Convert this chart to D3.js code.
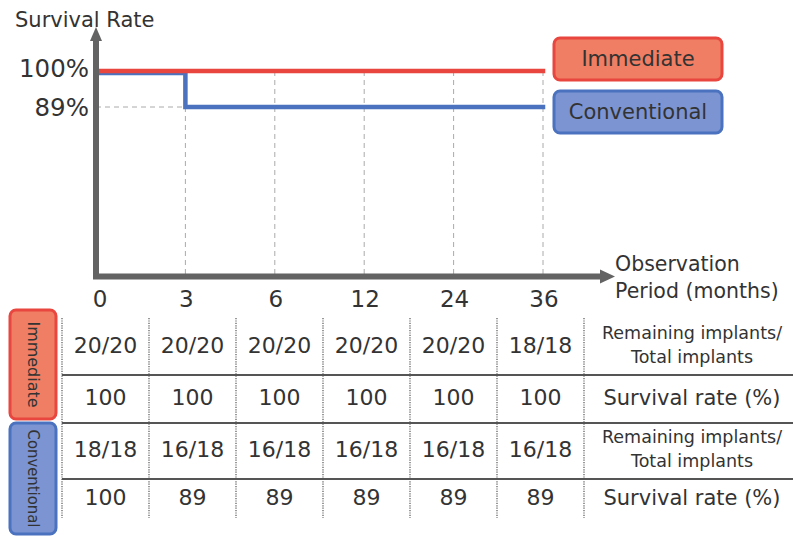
<!DOCTYPE html>
<html>
<head>
<meta charset="utf-8">
<script src="https://cdn.jsdelivr.net/npm/d3@7"></script>
<style>
  html, body { margin: 0; padding: 0; background: #fff; }
  svg { display: block; font-family: "DejaVu Sans", Verdana, sans-serif; }
</style>
</head>
<body>
<svg id="chart" width="793" height="536"></svg>
<script>
// Observation periods (months)
const periods = ["0", "3", "6", "12", "24", "36"];

// Immediate loading group
const immediateRemaining = [20, 20, 20, 20, 20, 18];
const immediateTotal     = [20, 20, 20, 20, 20, 18];
const immediateRate      = [100, 100, 100, 100, 100, 100];

// Conventional loading group
const conventionalRemaining = [18, 16, 16, 16, 16, 16];
const conventionalTotal     = [18, 18, 18, 18, 18, 18];
const conventionalRate      = [100, 89, 89, 89, 89, 89];

const yTicks = [100, 89];
const groups = ["Immediate", "Conventional"];

const RED = "#e8463e", RED_FILL = "#ef7e64";
const BLUE = "#4a72bf", BLUE_FILL = "#7c94d2";
const AXIS = "#636363", TEXT = "#333333";

const svg = d3.select("#chart");

// ---------- survival plot ----------
const x = d3.scalePoint().domain(periods).range([96, 543]);
const y = d3.scaleLinear().domain([89, 100]).range([107, 71]);
const axisY = 276.5;

// dashed guides
const grid = svg.append("g").attr("stroke", "#aaaaaa").attr("stroke-width", 1)
  .attr("stroke-dasharray", "5,4").attr("fill", "none");
periods.slice(1).forEach(p => {
  grid.append("line").attr("x1", x(p)).attr("x2", x(p))
    .attr("y1", y(100)).attr("y2", axisY);
});
grid.append("line").attr("x1", x("0")).attr("x2", x("3"))
  .attr("y1", y(89)).attr("y2", y(89));

// survival step lines
const line = d3.line()
  .x((d, i) => x(periods[i]))
  .y(d => d)
  .curve(d3.curveStepAfter);

// conventional drawn first; its 100% segment sits just under the immediate line
svg.append("path")
  .datum(conventionalRate.map((v, i) => y(v) + (v === 100 ? 2 : 0)))
  .attr("d", line)
  .attr("fill", "none").attr("stroke", BLUE).attr("stroke-width", 4.5)
  .attr("stroke-linecap", "square");

svg.append("path")
  .datum(immediateRate.map(v => y(v)))
  .attr("d", line)
  .attr("fill", "none").attr("stroke", RED).attr("stroke-width", 4.5)
  .attr("stroke-linecap", "square");

// axes with arrowheads
const axes = svg.append("g");
axes.append("path")
  .attr("d", `M96,40 L96,${axisY} L602,${axisY}`)
  .attr("fill", "none").attr("stroke", AXIS).attr("stroke-width", 6);
axes.append("path")
  .attr("d", "M96,27 L102,41 L90,41 Z").attr("fill", AXIS);
axes.append("path")
  .attr("d", `M615,${axisY} L600,${axisY - 7} L600,${axisY + 7} Z`).attr("fill", AXIS);

// axis titles
svg.append("text").attr("x", 15).attr("y", 27)
  .attr("font-size", 21).attr("fill", TEXT).text("Survival Rate");

const xTitle = svg.append("text").attr("x", 615).attr("font-size", 20.5).attr("fill", TEXT);
xTitle.append("tspan").attr("x", 615).attr("y", 271).text("Observation");
xTitle.append("tspan").attr("x", 615).attr("y", 298).text("Period (months)");

// y tick labels
svg.selectAll("text.ytick").data(yTicks).join("text")
  .attr("class", "ytick")
  .attr("x", 89).attr("y", d => y(d) + (d === 100 ? 6 : 9))
  .attr("text-anchor", "end").attr("font-size", 24.5).attr("fill", TEXT)
  .text(d => d + "%");

// x tick labels
svg.selectAll("text.xtick").data(periods).join("text")
  .attr("class", "xtick")
  .attr("x", (d, i) => x(d) + (i === 0 ? 4 : 1)).attr("y", 307)
  .attr("text-anchor", "middle").attr("font-size", 23).attr("fill", TEXT)
  .text(d => d);

// legend boxes
const legend = [
  { name: groups[0], y0: 38, fill: RED_FILL, stroke: RED },
  { name: groups[1], y0: 91, fill: BLUE_FILL, stroke: BLUE }
];
legend.forEach(l => {
  svg.append("rect").attr("x", 554).attr("y", l.y0).attr("width", 168).attr("height", 42)
    .attr("rx", 6).attr("fill", l.fill).attr("stroke", l.stroke).attr("stroke-width", 3);
  svg.append("text").attr("x", 638).attr("y", l.y0 + 28)
    .attr("text-anchor", "middle").attr("font-size", 21).attr("fill", TEXT).text(l.name);
});

// ---------- data table ----------
const col = d3.scaleBand().domain(periods).range([62, 584]);
const rowsY = [345, 397, 449, 497];
const rowLines = [375, 423, 479];

const tableRows = [
  immediateRemaining.map((r, i) => r + "/" + immediateTotal[i]),
  immediateRate.map(String),
  conventionalRemaining.map((r, i) => r + "/" + conventionalTotal[i]),
  conventionalRate.map(String)
];

// horizontal rules
svg.selectAll("line.hrule").data(rowLines).join("line")
  .attr("class", "hrule")
  .attr("x1", 62).attr("x2", 793).attr("y1", d => d).attr("y2", d => d)
  .attr("stroke", "#555").attr("stroke-width", 2);

// dotted column separators
const colEdges = periods.map(p => col(p)).concat([col.range()[1]]);
svg.selectAll("line.vrule").data(colEdges).join("line")
  .attr("class", "vrule")
  .attr("x1", d => d).attr("x2", d => d).attr("y1", 318).attr("y2", 518)
  .attr("stroke", "#555").attr("stroke-width", 1.2).attr("stroke-dasharray", "1.2,1.2");

// cell values
tableRows.forEach((vals, r) => {
  svg.selectAll(null).data(vals).join("text")
    .attr("x", (d, i) => col(periods[i]) + col.bandwidth() / 2)
    .attr("y", rowsY[r] + 8)
    .attr("text-anchor", "middle").attr("font-size", 22).attr("fill", TEXT)
    .text(d => d);
});

// row descriptions
const rowLabelX = 692;
[0, 2].forEach(r => {
  const t = svg.append("text").attr("text-anchor", "middle").attr("font-size", 17.5).attr("fill", TEXT);
  t.append("tspan").attr("x", rowLabelX).attr("y", rowsY[r] - 6).text("Remaining implants/");
  t.append("tspan").attr("x", rowLabelX).attr("y", rowsY[r] + 18).text("Total implants");
});
[1, 3].forEach(r => {
  svg.append("text").attr("x", rowLabelX).attr("y", rowsY[r] + 8)
    .attr("text-anchor", "middle").attr("font-size", 21).attr("fill", TEXT)
    .text("Survival rate (%)");
});

// group tabs with vertical labels
const tabs = [
  { name: groups[0], y0: 310, h: 109, fill: RED_FILL, stroke: RED, len: 86 },
  { name: groups[1], y0: 423, h: 111, fill: BLUE_FILL, stroke: BLUE, len: 98 }
];
tabs.forEach(t => {
  svg.append("rect").attr("x", 10).attr("y", t.y0).attr("width", 46).attr("height", t.h)
    .attr("rx", 6).attr("fill", t.fill).attr("stroke", t.stroke).attr("stroke-width", 3);
  const cx = 33, cy = t.y0 + t.h / 2;
  svg.append("text")
    .attr("transform", `translate(${cx},${cy}) rotate(90)`)
    .attr("x", 0).attr("y", 5.5)
    .attr("text-anchor", "middle").attr("font-size", 15.5).attr("fill", TEXT)
    .attr("textLength", t.len).attr("lengthAdjust", "spacingAndGlyphs")
    .text(t.name);
});
</script>
</body>
</html>
